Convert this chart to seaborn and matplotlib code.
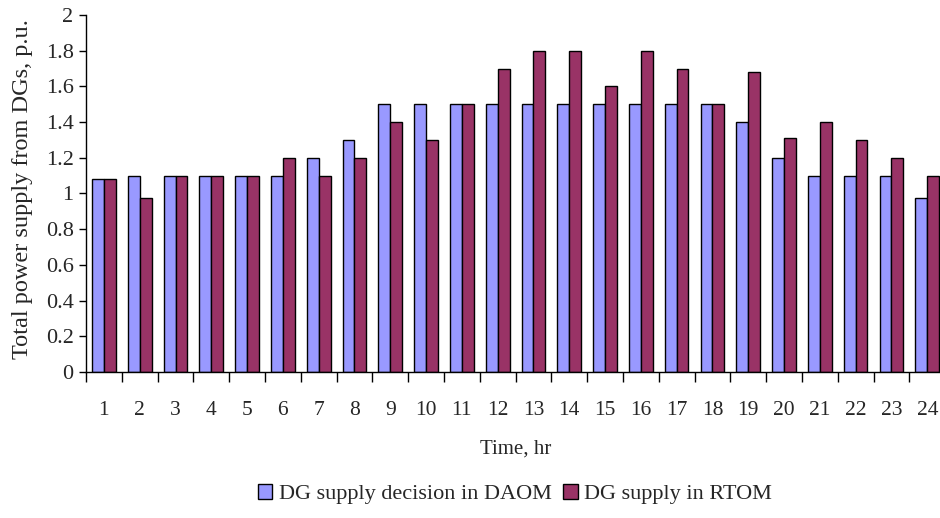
import numpy as np
import pandas as pd
import matplotlib
matplotlib.use("Agg")
import matplotlib.pyplot as plt
import seaborn as sns
from matplotlib.ticker import FixedLocator

hours = list(range(1, 25))
daom = [1.08, 1.10, 1.10, 1.10, 1.10, 1.10, 1.20, 1.30, 1.50, 1.50, 1.50, 1.50,
        1.50, 1.50, 1.50, 1.50, 1.50, 1.50, 1.40, 1.20, 1.10, 1.10, 1.10, 0.975]
rtom = [1.08, 0.975, 1.10, 1.10, 1.10, 1.20, 1.10, 1.20, 1.40, 1.30, 1.50, 1.70,
        1.80, 1.80, 1.60, 1.80, 1.70, 1.50, 1.68, 1.31, 1.40, 1.30, 1.20, 1.10]
series_names = ["DG supply decision in DAOM", "DG supply in RTOM"]
y_ticks = [0, 0.2, 0.4, 0.6, 0.8, 1, 1.2, 1.4, 1.6, 1.8, 2]

df = pd.DataFrame({
    "hour": hours * 2,
    "value": daom + rtom,
    "series": [series_names[0]] * 24 + [series_names[1]] * 24,
})

sns.set_style("white")
plt.rcParams["font.family"] = ["Liberation Serif", "DejaVu Serif"]

fig = plt.figure(figsize=(9.4, 5.18), dpi=100)
ax = fig.add_axes([0.0915, 0.282, 0.914, 0.689])

sns.barplot(data=df, x="hour", y="value", hue="series",
            palette=["#9999FF", "#993366"], width=0.66,
            edgecolor="black", linewidth=1.0, saturation=1, ax=ax)

ax.set_xlim(-0.5, 23.5)
ax.set_ylim(0, 2)
ax.set_yticks(y_ticks)
ax.set_yticklabels([f"{t:g}" for t in y_ticks])
ax.xaxis.set_minor_locator(FixedLocator(np.arange(-0.5, 24, 1)))
ax.tick_params(axis="x", which="major", length=0, pad=21, labelsize=15.5)
ax.tick_params(axis="x", which="minor", length=7, width=1, color="black", direction="out", bottom=True)
ax.tick_params(axis="y", which="major", length=5, width=1, color="black", direction="out",
               left=True, labelsize=16, pad=4)

for side in ["top", "right"]:
    ax.spines[side].set_visible(False)
for side in ["left", "bottom"]:
    ax.spines[side].set_color("black")
    ax.spines[side].set_linewidth(1)

ax.set_xlabel("Time, hr", fontsize=15, labelpad=14)
ax.set_ylabel("Total power supply from DGs, p.u.", fontsize=17.5)
ax.yaxis.set_label_coords(-0.062, 0.513)

leg = ax.legend(loc="center", ncol=2, frameon=False, fontsize=16,
                handlelength=0.65, handleheight=0.65,
                handletextpad=0.3, columnspacing=0.5)
leg.set_bbox_to_anchor((515 / 940, 1 - 494 / 518), transform=fig.transFigure)
for h in leg.legend_handles:
    h.set_edgecolor("black")
    h.set_linewidth(1)

fig.savefig("out.png", dpi=100)
